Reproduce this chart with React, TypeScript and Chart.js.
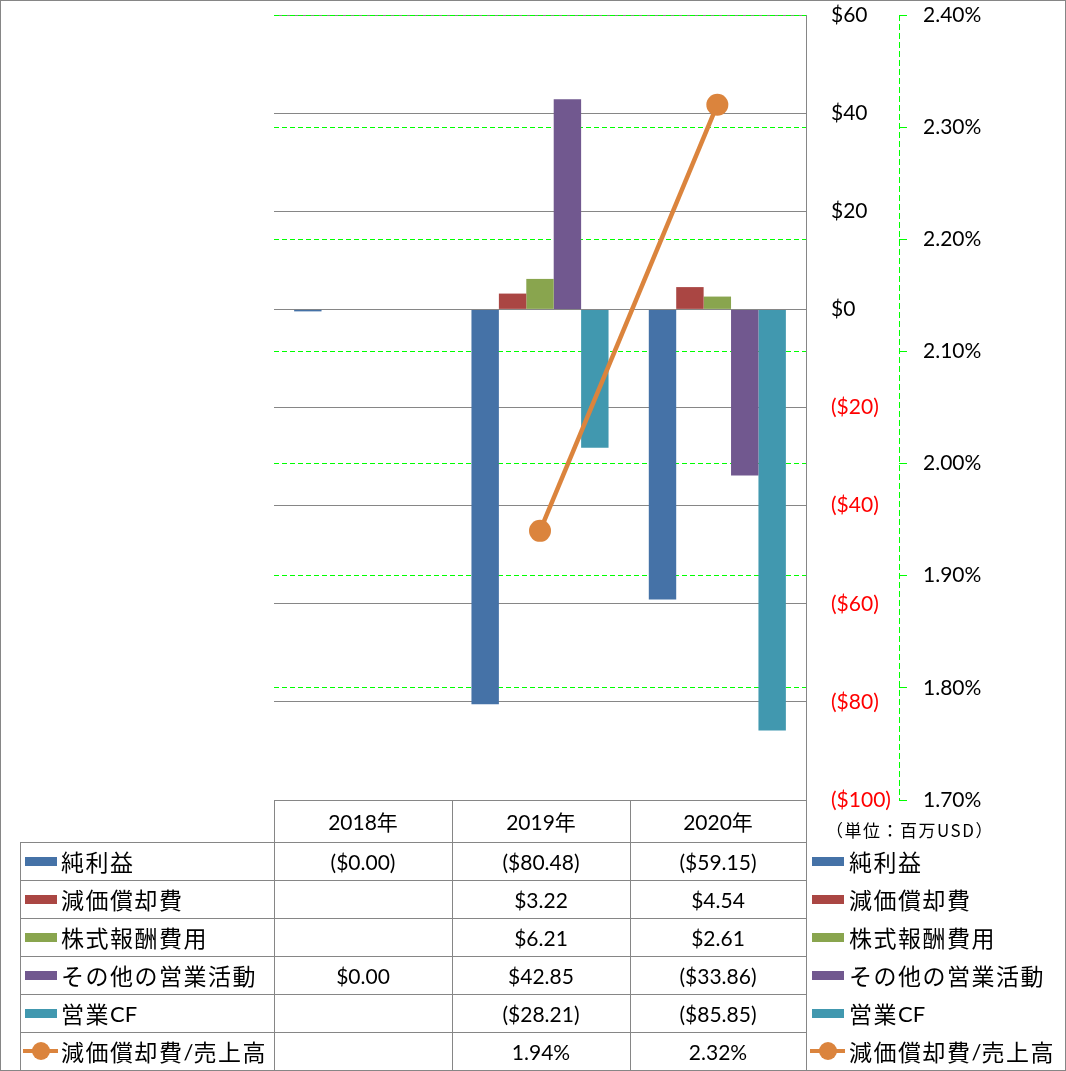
import React, { useEffect, useRef } from 'react';
import { Chart, registerables } from 'chart.js';

Chart.register(...registerables);

const categories = ['2018年', '2019年', '2020年'];
const seriesNames = ['純利益', '減価償却費', '株式報酬費用', 'その他の営業活動', '営業CF', '減価償却費/売上高'];
const netIncome: (number | null)[] = [-0.004, -80.48, -59.15];
const depreciation: (number | null)[] = [null, 3.22, 4.54];
const stockComp: (number | null)[] = [null, 6.21, 2.61];
const otherOps: (number | null)[] = [0, 42.85, -33.86];
const operatingCF: (number | null)[] = [null, -28.21, -85.85];
const depToSales: (number | null)[] = [null, 1.94, 2.32];
const dollarTicks = { min: -100, max: 60, step: 20 };
const pctTicks = { min: 1.7, max: 2.4, step: 0.1 };
const unitLabel = '（単位：百万USD）';

const colors = ['#4572A7', '#AA4643', '#89A54E', '#71588F', '#4198AF', '#DB843D'];
const GREY = '#868686';
const GREEN = '#00FF00';
const NUM_FONT = "Lato, 'Noto Sans CJK JP', sans-serif";
const JP_FONT = "'Noto Sans CJK JP', sans-serif";

const barSeries = [netIncome, depreciation, stockComp, otherOps, operatingCF];

const fmtDollar = (v: number | null) => {
  if (v === null || v === undefined) return '';
  const a = Math.abs(v).toFixed(2);
  return v < 0 ? `($${a})` : `$${a}`;
};
const fmtPct = (v: number | null) => (v === null ? '' : `${v.toFixed(2)}%`);

const colX = [274, 452, 630, 806];
const rowY = [800, 842, 880, 918, 956, 994, 1032, 1070];

const y1BorderPlugin = {
  id: 'y1Border',
  afterDraw(chart: any) {
    const s = chart.scales.y1;
    const ctx = chart.ctx;
    ctx.save();
    ctx.strokeStyle = GREEN;
    ctx.lineWidth = 1;
    ctx.setLineDash([6, 3]);
    ctx.beginPath();
    const x = Math.round(s.left) + 0.5;
    ctx.moveTo(x, s.top);
    ctx.lineTo(x, s.bottom);
    ctx.stroke();
    ctx.restore();
  },
};

function Label({ text }: { text: string }) {
  const runs = text.match(/[\x00-\x7F]+|[^\x00-\x7F]+/g) || [];
  return (
    <>
      {runs.map((r, k) =>
        /^[\x00-\x7F]+$/.test(r) ? (
          <span key={k} style={{ fontFamily: NUM_FONT, fontSize: 22, letterSpacing: 0 }}>{r}</span>
        ) : (
          <span key={k} style={{ fontFamily: JP_FONT, fontSize: 23, letterSpacing: 1.5 }}>{r}</span>
        )
      )}
    </>
  );
}

function Swatch({ i, x, y }: { i: number; x: number; y: number }) {
  if (i === 5) {
    return (
      <>
        <div style={{ position: 'absolute', left: x - 2, top: y - 2, width: 35, height: 4, background: colors[5] }} />
        <div style={{ position: 'absolute', left: x + 16 - 9, top: y - 9, width: 18, height: 18, borderRadius: 9, background: colors[5] }} />
      </>
    );
  }
  return <div style={{ position: 'absolute', left: x, top: y - 4, width: 32, height: 9, background: colors[i] }} />;
}

export default function App() {
  const ref = useRef<HTMLCanvasElement | null>(null);

  useEffect(() => {
    if (!ref.current) return;
    const barDatasets = barSeries.map((d, i) => ({
      type: 'bar' as const,
      label: seriesNames[i],
      data: d,
      backgroundColor: colors[i],
      borderWidth: 0,
      yAxisID: 'y',
      categoryPercentage: 0.773,
      barPercentage: 1,
      minBarLength: i === 0 ? 2 : 0,
      order: 1,
    }));
    const noPad = (s: any, w: number) => {
      s.width = w;
      s.paddingTop = 0;
      s.paddingBottom = 0;
    };
    const chart = new Chart(ref.current, {
      type: 'bar',
      data: {
        labels: categories,
        datasets: [
          {
            type: 'line' as const,
            label: seriesNames[5],
            data: depToSales,
            yAxisID: 'y1',
            borderColor: colors[5],
            backgroundColor: colors[5],
            borderWidth: 4.5,
            pointRadius: 11,
            pointHoverRadius: 11,
            pointBorderWidth: 0,
            pointBackgroundColor: colors[5],
            order: 0,
          } as any,
          ...barDatasets,
        ],
      },
      options: {
        responsive: false,
        maintainAspectRatio: false,
        animation: false,
        layout: { padding: { left: 274, top: 15, right: 67, bottom: 271 } },
        plugins: { legend: { display: false }, tooltip: { enabled: false } },
        scales: {
          x: { display: false },
          y: {
            position: 'right',
            min: dollarTicks.min,
            max: dollarTicks.max,
            ticks: {
              stepSize: dollarTicks.step,
              padding: 25,
              font: { family: NUM_FONT, size: 21 },
              color: (c: any) => (c.tick && c.tick.value < 0 ? '#FF0000' : '#000000'),
              callback: (v: any) => (Number(v) < 0 ? `($${Math.abs(Number(v))})` : `$${Number(v)}`),
            },
            grid: { color: GREY, lineWidth: 1, drawTicks: false },
            border: { color: GREY, width: 1 },
            afterFit: (s: any) => noPad(s, 93),
          },
          y1: {
            position: 'right',
            min: pctTicks.min,
            max: pctTicks.max,
            ticks: {
              stepSize: pctTicks.step,
              padding: 16,
              font: { family: NUM_FONT, size: 21 },
              color: '#000000',
              callback: (v: any) => `${Number(v).toFixed(2)}%`,
            },
            grid: { color: GREEN, lineWidth: 1, drawTicks: true, tickLength: 8, tickColor: GREEN },
            border: { display: false, dash: [5, 3] },
            afterFit: (s: any) => noPad(s, 100),
          },
        },
      } as any,
      plugins: [y1BorderPlugin],
    });
    return () => chart.destroy();
  }, []);

  const lines: React.ReactNode[] = [];
  colX.forEach((x, k) => {
    lines.push(<div key={'v' + k} style={{ position: 'absolute', left: x, top: rowY[0], width: 1, height: rowY[7] - rowY[0], background: GREY }} />);
  });
  lines.push(<div key="vl" style={{ position: 'absolute', left: 20, top: rowY[1], width: 1, height: rowY[7] - rowY[1], background: GREY }} />);
  lines.push(<div key="h0" style={{ position: 'absolute', left: colX[0], top: rowY[0], width: colX[3] - colX[0] + 1, height: 1, background: GREY }} />);
  for (let r = 1; r < rowY.length; r++) {
    lines.push(<div key={'h' + r} style={{ position: 'absolute', left: 20, top: rowY[r], width: colX[3] - 20 + 1, height: 1, background: GREY }} />);
  }

  const cellStyle = (c: number, r: number): React.CSSProperties => ({
    position: 'absolute',
    left: colX[c],
    top: rowY[r],
    width: colX[c + 1] - colX[c],
    height: rowY[r + 1] - rowY[r],
    display: 'flex',
    alignItems: 'center',
    justifyContent: 'center',
    fontFamily: NUM_FONT,
    fontSize: 21,
    color: '#000',
    whiteSpace: 'nowrap',
  });

  const labelStyle = (x: number, r: number): React.CSSProperties => ({
    position: 'absolute',
    left: x,
    top: rowY[r],
    height: rowY[r + 1] - rowY[r],
    display: 'flex',
    alignItems: 'center',
    whiteSpace: 'nowrap',
    color: '#000',
  });

  const allSeries = [...barSeries, depToSales];

  return (
    <div style={{ position: 'absolute', left: 0, top: 0, width: 1066, height: 1071, background: '#fff', overflow: 'hidden' }}>
      <canvas ref={ref} width={1066} height={1071} style={{ position: 'absolute', left: 0, top: 0 }} />
      {lines}
      {categories.map((c, i) => (
        <div key={'hdr' + i} style={cellStyle(i, 0)}>{c}</div>
      ))}
      {allSeries.map((s, r) => (
        <React.Fragment key={'row' + r}>
          <Swatch i={r} x={25} y={(rowY[r + 1] + rowY[r + 2]) / 2} />
          <div style={labelStyle(61, r + 1)}><Label text={seriesNames[r]} /></div>
          {s.map((v, c) => (
            <div key={'cell' + c} style={cellStyle(c, r + 1)}>{r === 5 ? fmtPct(v) : fmtDollar(v)}</div>
          ))}
          <Swatch i={r} x={812} y={(rowY[r + 1] + rowY[r + 2]) / 2} />
          <div style={labelStyle(849, r + 1)}><Label text={seriesNames[r]} /></div>
        </React.Fragment>
      ))}
      <div style={{ position: 'absolute', left: 826, top: 818, fontFamily: JP_FONT, fontSize: 17, letterSpacing: 1.5, lineHeight: '24px', whiteSpace: 'nowrap', color: '#000' }}>{unitLabel}</div>
      <div style={{ position: 'absolute', left: 0, top: 0, width: 1066, height: 1071, boxSizing: 'border-box', border: `1px solid ${GREY}`, pointerEvents: 'none' }} />
    </div>
  );
}
